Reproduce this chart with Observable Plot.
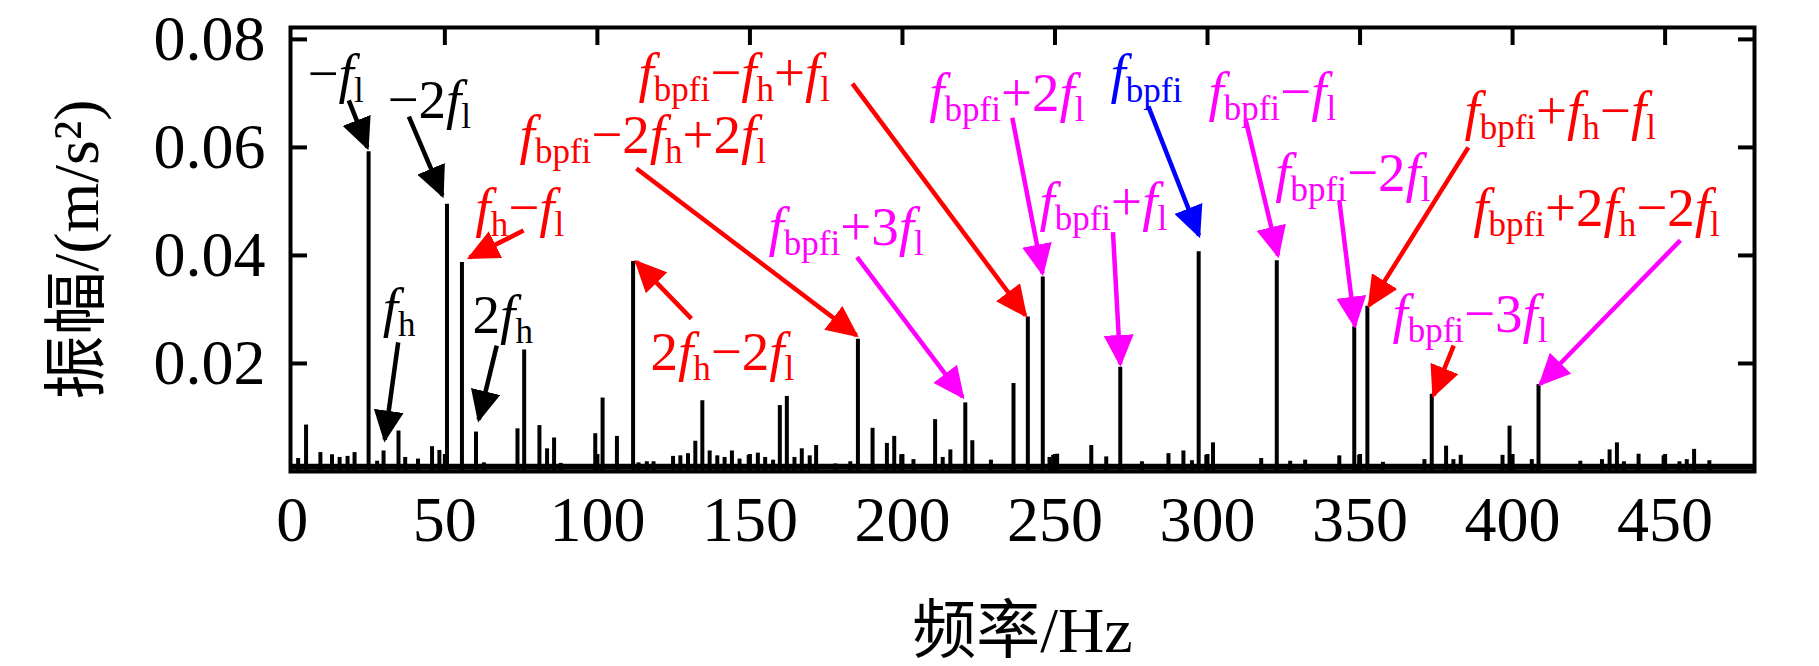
<!DOCTYPE html>
<html><head><meta charset="utf-8">
<script src="https://cdn.jsdelivr.net/npm/d3@7"></script>
<script src="https://cdn.jsdelivr.net/npm/@observablehq/plot@0.6"></script>
<style>html,body{margin:0;padding:0;background:#fff;overflow:hidden;} svg{display:block;}</style>
</head><body><div id="chart"></div>
<script>
// ---------- data ----------
const peakFreq = [1.9,4.5,9.2,13.0,15.5,18.1,20.4,25.0,27.8,29.9,34.8,37.0,41.2,45.8,48.2,50.7,55.6,60.2,62.8,73.8,76.0,81.0,83.5,85.8,88.0,99.3,101.7,106.4,111.7,113.5,116.2,118.4,124.8,127.2,129.7,132.1,134.4,136.8,139.3,141.7,144.1,146.6,149.6,152.6,155.0,157.6,159.8,162.1,164.6,167.0,169.6,171.7,178.0,182.9,185.4,190.2,194.9,197.3,199.6,203.6,210.7,213.2,215.7,220.6,222.9,229.0,236.4,241.1,246.0,248.2,249.4,250.7,261.9,266.8,271.4,278.5,287.2,292.1,294.9,297.1,299.6,301.8,317.6,322.7,327.1,332.0,343.2,348.1,349.7,352.4,357.5,371.1,373.5,378.2,380.6,383.0,396.7,399.0,406.3,408.5,422.2,429.3,431.8,434.2,436.5,441.3,449.5,454.7,457.1,459.5,464.5];
const peakAmp = [0.0024,0.0086,0.0035,0.0031,0.0026,0.0028,0.0035,0.0592,0.0019,0.0038,0.0075,0.0026,0.0023,0.0046,0.0039,0.0495,0.0387,0.0073,0.0016,0.0079,0.0225,0.0085,0.0042,0.0062,0.0015,0.0070,0.0136,0.0065,0.0389,0.0016,0.0018,0.0018,0.0028,0.0029,0.0033,0.0056,0.0131,0.0038,0.0029,0.0026,0.0038,0.0023,0.0030,0.0034,0.0026,0.0021,0.0122,0.0139,0.0026,0.0042,0.0029,0.0048,0.0014,0.0018,0.0245,0.0080,0.0052,0.0065,0.0031,0.0022,0.0096,0.0026,0.0040,0.0127,0.0057,0.0021,0.0163,0.0286,0.0360,0.0026,0.0030,0.0032,0.0048,0.0027,0.0193,0.0018,0.0033,0.0038,0.0020,0.0407,0.0030,0.0053,0.0024,0.0390,0.0019,0.0021,0.0029,0.0268,0.0030,0.0306,0.0017,0.0022,0.0143,0.0047,0.0022,0.0030,0.0030,0.0084,0.0022,0.0161,0.0019,0.0022,0.0040,0.0053,0.0018,0.0032,0.0029,0.0018,0.0022,0.0041,0.0020];
const noiseFloor = [0.0009];

const xTicks = [0,50,100,150,200,250,300,350,400,450];
const xInnerTicks = [50,100,150,200,250,300,350,400,450];
const yTicks = [0.02,0.04,0.06,0.08];
const xTitle = "频率/Hz";
const yTitle = "振幅/(m/s²)";

const labelText = ["−f_{l}","−2f_{l}","f_{h}−f_{l}","f_{h}","2f_{h}","2f_{h}−2f_{l}","f_{bpfi}−2f_{h}+2f_{l}","f_{bpfi}−f_{h}+f_{l}","f_{bpfi}+3f_{l}","f_{bpfi}+2f_{l}","f_{bpfi}","f_{bpfi}+f_{l}","f_{bpfi}−f_{l}","f_{bpfi}−2f_{l}","f_{bpfi}+f_{h}−f_{l}","f_{bpfi}+2f_{h}−2f_{l}","f_{bpfi}−3f_{l}"];
const labelColor = ["black","black","red","black","black","red","red","red","magenta","magenta","blue","magenta","magenta","magenta","red","red","magenta"];
const labelFreq = [5.0,31.2,60.0,29.6,59.1,117.4,74.5,113.5,156.1,208.8,268.2,244.9,300.3,322.2,384.2,387.1,360.6];
const labelAmp = [0.0702,0.0654,0.0455,0.0270,0.0257,0.0187,0.0589,0.0705,0.0420,0.0668,0.0702,0.0465,0.0670,0.0520,0.0635,0.0454,0.0259];

const arrowFromFreq = [18.5,38.2,75.8,34.7,67.0,130.8,112.8,183.6,185.1,236.0,280.6,269.0,312.5,343.2,385.5,380.7,455.0];
const arrowFromAmp  = [0.0687,0.0657,0.0446,0.0239,0.0233,0.0283,0.0561,0.0718,0.0397,0.0655,0.0676,0.0443,0.0651,0.0502,0.0600,0.0233,0.0428];
const arrowToFreq   = [24.6,49.2,58.1,30.3,61.1,112.8,184.9,240.3,219.7,245.9,297.2,271.4,323.1,348.3,353.0,374.1,409.1];
const arrowToAmp    = [0.0600,0.0511,0.0396,0.0059,0.0096,0.0388,0.0252,0.0289,0.0138,0.0367,0.0437,0.0199,0.0400,0.0270,0.0307,0.0141,0.0162];
const arrowColor = ["black","black","red","black","black","red","red","red","magenta","magenta","blue","magenta","magenta","magenta","red","red","magenta"];

// ---------- tables ----------
const peaks = peakFreq.map((f, i) => ({f, a: peakAmp[i]}));
const labels = labelText.map((t, i) => ({t, c: labelColor[i], f: labelFreq[i], a: labelAmp[i]}));
const arrows = arrowFromFreq.map((f, i) => ({f1: f, a1: arrowFromAmp[i], f2: arrowToFreq[i], a2: arrowToAmp[i], c: arrowColor[i]}));

const NS = "http://www.w3.org/2000/svg";
function triangleMarker(color) {
  const m = document.createElementNS(NS, "marker");
  m.setAttribute("viewBox", "0 0 32 30");
  m.setAttribute("markerUnits", "userSpaceOnUse");
  m.setAttribute("markerWidth", 32);
  m.setAttribute("markerHeight", 30);
  m.setAttribute("refX", 29);
  m.setAttribute("refY", 15);
  m.setAttribute("orient", "auto");
  const p = document.createElementNS(NS, "path");
  p.setAttribute("d", "M0,0L32,15L0,30Z");
  p.setAttribute("fill", color);
  p.setAttribute("stroke", "none");
  m.appendChild(p);
  return m;
}

const serif = "'Times New Roman','Liberation Serif','Noto Sans CJK SC',serif";

const plot = Plot.plot({
  width: 1819,
  height: 666,
  marginLeft: 290,
  marginRight: 65,
  marginTop: 27,
  marginBottom: 195,
  style: {fontFamily: serif, background: "white", color: "black"},
  x: {domain: [-0.6, 479.3]},
  y: {domain: [0, 0.0822]},
  color: {type: "identity"},
  marks: [
    Plot.ruleY(noiseFloor, {stroke: "black", strokeWidth: 6}),
    Plot.ruleX(peaks, {x: "f", y1: 0, y2: "a", stroke: "black", strokeWidth: 4}),
    Plot.link(arrows, {x1: "f1", y1: "a1", x2: "f2", y2: "a2", stroke: "c", strokeWidth: 4.5, markerEnd: triangleMarker}),
    Plot.text(labels, {x: "f", y: "a", text: "t", fill: "c", textAnchor: "start", lineAnchor: "bottom", fontSize: 55}),
    Plot.frame({stroke: "black", strokeWidth: 4}),
    // inward ticks on all four sides
    Plot.axisX({ticks: xInnerTicks, anchor: "bottom", tickSize: -17, strokeWidth: 4, tickFormat: () => "", label: null}),
    Plot.axisX({ticks: xInnerTicks, anchor: "top", tickSize: -17, strokeWidth: 4, tickFormat: () => "", label: null}),
    Plot.axisY({ticks: yTicks, anchor: "left", tickSize: -17, strokeWidth: 4, tickFormat: () => "", label: null}),
    Plot.axisY({ticks: yTicks, anchor: "right", tickSize: -17, strokeWidth: 4, tickFormat: () => "", label: null}),
    // tick labels
    Plot.axisX({ticks: xTicks, anchor: "bottom", tickSize: 0, tickPadding: 24, fontSize: 64, tickFormat: d => String(d), label: null}),
    Plot.axisY({ticks: yTicks, anchor: "left", tickSize: 0, tickPadding: 25, fontSize: 64, tickFormat: d3.format(".2f"), label: null}),
    // axis titles
    Plot.text([xTitle], {text: d => d, frameAnchor: "bottom", dy: 180, textAnchor: "middle", lineAnchor: "bottom", fontSize: 64}),
    Plot.text([yTitle], {text: d => d, frameAnchor: "left", dx: -193, rotate: -90, textAnchor: "middle", lineAnchor: "bottom", fontSize: 64})
  ]
});

// rich text: italic f, subscripts
const SUB_SIZE = 35, SUB_SHIFT = 10;
function richify(textEl, s) {
  while (textEl.firstChild) textEl.removeChild(textEl.firstChild);
  let shifted = false;
  function add(str, italic, sub) {
    const t = document.createElementNS(NS, "tspan");
    t.textContent = str;
    if (italic) t.setAttribute("font-style", "italic");
    if (sub) {
      t.setAttribute("font-size", SUB_SIZE);
      if (!shifted) { t.setAttribute("dy", SUB_SHIFT); shifted = true; }
    } else if (shifted) { t.setAttribute("dy", -SUB_SHIFT); shifted = false; }
    textEl.appendChild(t);
  }
  let i = 0;
  while (i < s.length) {
    if (s.startsWith("_{", i)) { const j = s.indexOf("}", i); add(s.slice(i + 2, j), false, true); i = j + 1; }
    else if (s[i] === "f") { add("f", true, false); i++; }
    else { let j = i; while (j < s.length && s[j] !== "f" && !s.startsWith("_{", j)) j++; add(s.slice(i, j), false, false); i = j; }
  }
}
plot.querySelectorAll("text").forEach(el => { if (el.textContent.includes("_{")) richify(el, el.textContent); });

document.getElementById("chart").appendChild(plot);
</script>
</body></html>
